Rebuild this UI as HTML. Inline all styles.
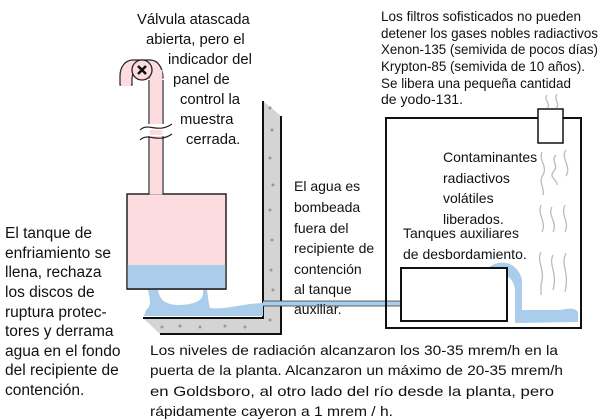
<!DOCTYPE html>
<html><head><meta charset="utf-8"><style>
html,body{margin:0;padding:0;background:#fff;}
svg{display:block;}
text{font-family:"Liberation Sans",sans-serif;font-size:14px;fill:#111;}
.l{font-size:15.5px;}
.t{font-size:14.8px;}
.r{font-size:13.5px;}
</style></head><body>
<svg width="603" height="420" viewBox="0 0 603 420" xmlns="http://www.w3.org/2000/svg">
<!-- wall -->
<path d="M263 101 L281 116 L281 334 L160 334 L143 318 L263 318 Z" fill="#d4d4d4"/>
<g fill="#999">
<circle cx="270" cy="108" r="1.5"/><circle cx="272" cy="130" r="1.5"/><circle cx="270" cy="158" r="1.5"/><circle cx="273" cy="185" r="1.5"/><circle cx="270" cy="210" r="1.5"/><circle cx="272" cy="240" r="1.5"/><circle cx="271" cy="270" r="1.5"/><circle cx="273" cy="290" r="1.5"/>
<circle cx="162" cy="327" r="1.5"/><circle cx="180" cy="326" r="1.5"/><circle cx="200" cy="327" r="1.5"/><circle cx="225" cy="326" r="1.5"/><circle cx="245" cy="327" r="1.5"/><circle cx="270" cy="320" r="1.5"/>
</g>
<path d="M263 101 L263 305 M143 318 L263 318 L263 305 M281 116 L281 334 L160 334" fill="none" stroke="#111" stroke-width="2"/>
<!-- water on floor -->
<path d="M148 290 C150 300,152 305,146 310 L144 316 L263 316 L263 303 C240 304,225 310,210 308 C208 300,208 295,207 290 L203 290 C204 298,200 304,180 305 C165 305,160 300,158 290 Z" fill="#a9cdeb"/>
<rect x="263" y="301" width="138" height="5" fill="#a9cdeb"/>
<line x1="263" y1="301" x2="401" y2="301" stroke="#333" stroke-width="0.8"/>
<line x1="263" y1="306" x2="401" y2="306" stroke="#333" stroke-width="0.8"/>
<!-- pink tank -->
<rect x="127" y="194" width="99" height="95" fill="#fcdcdf" stroke="#222" stroke-width="1.5"/>
<rect x="127.7" y="265" width="97.6" height="23.3" fill="#a9cdeb"/>
<line x1="127" y1="289" x2="226" y2="289" stroke="#222" stroke-width="1.5"/>
<!-- pipe -->
<path d="M149 194 L149 80 M163 194 L163 80" stroke="#222" stroke-width="1.2"/>
<rect x="149.6" y="76" width="12.8" height="118.5" fill="#fcdcdf"/>
<path d="M120 85 L120 76 C120 66,126 60,133 60 L150 60 C158 60,163 68,163 78 L149 78 C149 74,146 72,143 72 L136 72 C133 72,132 76,132 80 L132 85 Z" fill="#fcdcdf" stroke="#222" stroke-width="1.2"/>
<path d="M121 85 L131 85" stroke="#fcdcdf" stroke-width="2"/>
<rect x="149.6" y="70" width="12.8" height="12" fill="#fcdcdf"/>
<circle cx="142" cy="70" r="10" fill="#fcdcdf" stroke="#222" stroke-width="1.3"/>
<path d="M138 66 L146 74 M146 66 L138 74" stroke="#111" stroke-width="2.5"/>
<!-- break marks -->
<rect x="145" y="124" width="22" height="12" fill="#fff"/>
<path d="M140 130 C148 122,158 134,172 124 M140 140 C148 132,158 144,172 134" fill="none" stroke="#222" stroke-width="1.2"/>
<rect x="149.6" y="130" width="12.8" height="5" fill="#fcdcdf"/>
<!-- big box -->
<rect x="386" y="118" width="195" height="210" fill="none" stroke="#111" stroke-width="2"/>
<rect x="538" y="109" width="25" height="34" fill="#fff" stroke="#111" stroke-width="1.5"/>
<!-- overflow water -->
<path d="M488 268 C500 258,518 262,522 280 L522 310 L560 310 C570 308,575 308,578 312 L578 322 L515 323 L515 290 C514 278,505 272,490 270 Z" fill="#a9cdeb"/>
<rect x="401" y="268" width="106" height="53" fill="#fff" stroke="#111" stroke-width="2"/>
<!-- squiggles -->
<g fill="none" stroke="#bbb" stroke-width="1.3">
<path d="M547 95 C543 100,552 104,547 108"/><path d="M557 94 C553 100,561 104,556 108"/>
<path d="M542 152 C538 160,548 166,543 175 C538 182,545 188,543 195"/>
<path d="M556 155 C550 160,560 166,553 172 C549 178,558 180,557 185"/>
<path d="M566 150 C560 158,572 166,566 176"/>
<path d="M541 205 C537 215,547 222,542 232"/><path d="M552 207 C547 215,558 222,553 232"/><path d="M565 205 C560 215,570 222,565 232"/>
<path d="M541 252 C536 262,546 270,541 285 L541 295"/><path d="M553 255 C548 265,558 272,553 290"/><path d="M566 253 C560 265,570 272,565 292"/>
</g>
<!-- text -->
<text class="t" x="137" y="24">Válvula atascada</text>
<text class="t" x="146" y="44">abierta, pero el</text>
<text class="t" x="168" y="64">indicador del</text>
<text class="t" x="173" y="84">panel de</text>
<text class="t" x="180" y="104">control la</text>
<text class="t" x="180" y="124">muestra</text>
<text class="t" x="186" y="144">cerrada.</text>

<text class="r" x="381" y="21" textLength="200" lengthAdjust="spacingAndGlyphs">Los filtros sofisticados no pueden</text>
<text class="r" x="381" y="38" textLength="217" lengthAdjust="spacingAndGlyphs">detener los gases nobles radiactivos</text>
<text class="r" x="381" y="54" textLength="217" lengthAdjust="spacingAndGlyphs">Xenon-135 (semivida de pocos días)</text>
<text class="r" x="381" y="71" textLength="204" lengthAdjust="spacingAndGlyphs">Krypton-85 (semivida de 10 años).</text>
<text class="r" x="381" y="88" textLength="190" lengthAdjust="spacingAndGlyphs">Se libera una pequeña cantidad</text>
<text class="r" x="381" y="104" textLength="82" lengthAdjust="spacingAndGlyphs">de yodo-131.</text>

<text class="l" x="5" y="238">El tanque de</text>
<text class="l" x="5" y="258">enfriamiento se</text>
<text class="l" x="5" y="277">llena, rechaza</text>
<text class="l" x="5" y="297">los discos de</text>
<text class="l" x="5" y="317">ruptura protec-</text>
<text class="l" x="5" y="336">tores y derrama</text>
<text class="l" x="5" y="356">agua en el fondo</text>
<text class="l" x="5" y="375">del recipiente de</text>
<text class="l" x="5" y="395">contención.</text>

<text x="294" y="191">El agua es</text>
<text x="294" y="212">bombeada</text>
<text x="294" y="233">fuera del</text>
<text x="294" y="253">recipiente de</text>
<text x="294" y="274">contención</text>
<text x="294" y="294">al tanque</text>
<text x="294" y="314">auxiliar.</text>

<text x="443" y="162">Contaminantes</text>
<text x="443" y="183">radiactivos</text>
<text x="443" y="203">volátiles</text>
<text x="443" y="224">liberados.</text>

<text x="403" y="238">Tanques auxiliares</text>
<text x="403" y="259">de desbordamiento.</text>

<text x="150" y="355" textLength="408" lengthAdjust="spacingAndGlyphs">Los niveles de radiación alcanzaron los 30-35 mrem/h en la</text>
<text x="150" y="375" textLength="413" lengthAdjust="spacingAndGlyphs">puerta de la planta. Alcanzaron un máximo de 20-35 mrem/h</text>
<text x="150" y="396" textLength="404" lengthAdjust="spacingAndGlyphs">en Goldsboro, al otro lado del río desde la planta, pero</text>
<text x="150" y="416" textLength="243" lengthAdjust="spacingAndGlyphs">rápidamente cayeron a 1 mrem / h.</text>
</svg>
</body></html>
